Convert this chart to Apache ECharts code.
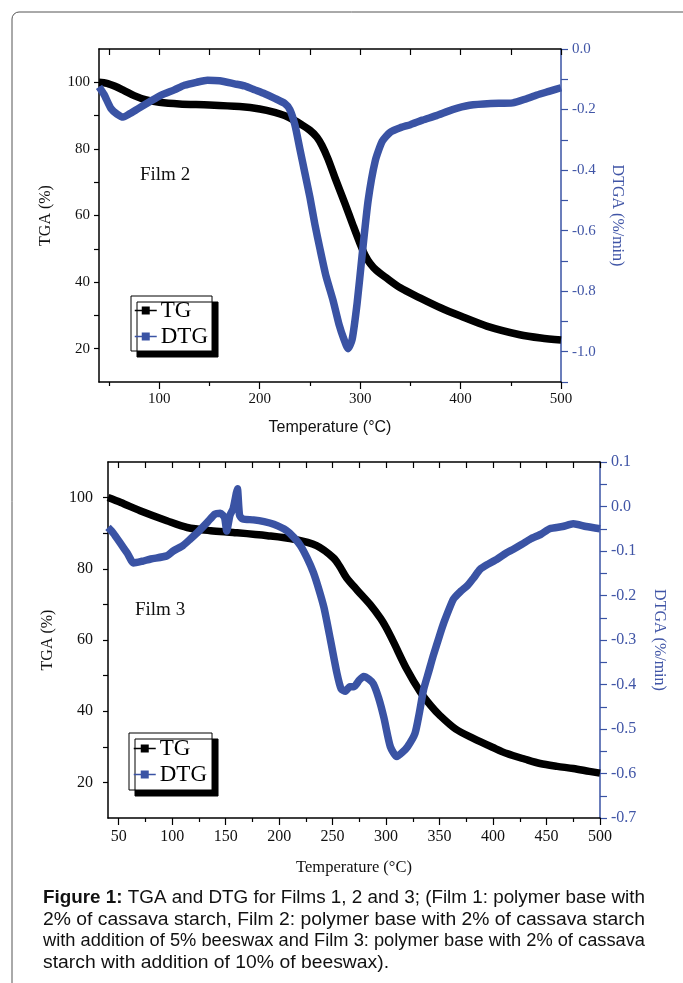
<!DOCTYPE html>
<html>
<head>
<meta charset="utf-8">
<script src="https://cdn.jsdelivr.net/npm/echarts@6/dist/echarts.min.js"></script>
<style>
html,body{margin:0;padding:0;background:#fff;}
#chart{width:683px;height:983px;}
</style>
</head>
<body>
<div id="chart"></div>
<script>
// ---------- DATA ----------
// Film 2 (top panel)
const film2TgTemp = [40,48,56,65,75,86,100,120,150,180,200,215,225,235,242,250,257,262,268,275,285,293,300,305,310,316,326,340,360,380,400,426,459,480,500];
const film2TgValue = [100,99.7,98.8,97.5,96,94.8,94,93.5,93.2,92.7,92,91,90,88.5,87.2,85.6,83.5,81,77,71.3,63.5,57,51.5,48,45.6,43.6,41.3,38.3,35.2,32.3,29.8,26.8,24.2,23.2,22.6];
const film2DtgTemp = [40,45,52,58,64,70,79,90,102,115,125,137,148,160,175,185,195,205,215,225,230,235,240,245,250,255,260,266,273,279,284,288,292,297,302,308,315,322,330,340,350,362,376,392,409,430,452,465,476,488,500];
const film2DtgValue = [-0.125,-0.15,-0.197,-0.215,-0.225,-0.215,-0.197,-0.175,-0.152,-0.135,-0.12,-0.11,-0.103,-0.105,-0.115,-0.122,-0.135,-0.148,-0.163,-0.18,-0.2,-0.25,-0.33,-0.41,-0.49,-0.58,-0.66,-0.75,-0.83,-0.91,-0.96,-0.99,-0.96,-0.84,-0.68,-0.5,-0.37,-0.305,-0.275,-0.26,-0.25,-0.235,-0.22,-0.2,-0.186,-0.18,-0.178,-0.165,-0.152,-0.14,-0.128];
// Film 3 (bottom panel)
const film3TgTemp = [40,52,70,95,114,136,157,189,214,235,251,257,263,273,285,295,300,307,319,332,342,350,365,382,400,413,430,444,460,475,490,500];
const film3TgValue = [100,98.6,96.3,93.5,91.6,90.7,90.2,89.3,88.3,86.5,83,80.5,77.5,74,70,66,63.5,59.4,52,45.4,41.5,38.9,35,32.3,29.8,28.1,26.5,25.3,24.5,23.9,23.1,22.6];
const film3DtgTemp = [40,45,52,58,64,72,80,95,101,110,117,125,133,140,145,149,151,154,157,160,161,163,166,176,186,195,207,214,220,226,232,237,242,248,254,258,262,266,270,275,279,284,288,293,298,304,310,315,320,327,331,335,340,344,350,354,363,370,376,382,388,395,404,412,419,427,435,445,453,465,475,487,500];
const film3DtgValue = [-0.047,-0.06,-0.084,-0.105,-0.127,-0.123,-0.118,-0.111,-0.1,-0.088,-0.073,-0.055,-0.035,-0.017,-0.015,-0.025,-0.055,-0.02,-0.005,0.03,0.04,-0.02,-0.028,-0.03,-0.034,-0.04,-0.054,-0.07,-0.088,-0.115,-0.148,-0.185,-0.228,-0.3,-0.374,-0.41,-0.415,-0.405,-0.405,-0.39,-0.382,-0.388,-0.398,-0.43,-0.475,-0.54,-0.562,-0.553,-0.54,-0.51,-0.465,-0.412,-0.37,-0.336,-0.29,-0.261,-0.208,-0.19,-0.178,-0.16,-0.141,-0.13,-0.118,-0.105,-0.096,-0.085,-0.073,-0.062,-0.05,-0.045,-0.039,-0.045,-0.05];

// Tick labels
const c1XLabels = [100,200,300,400,500];
const c1XMajorTicks = [100,200,300,400,500];
const c1XMinorTicks = [50,150,250,350,450];
const c1XTopTicks = [50,100,150,200,250,300,350,400,450,500];
const c1YLabels = [20,40,60,80,100];
const c1YTicks = [20,30,40,50,60,70,80,90,100];
const c1RLabels = [0,-0.2,-0.4,-0.6,-0.8,-1.0];
const c1RTicks = [0,-0.1,-0.2,-0.3,-0.4,-0.5,-0.6,-0.7,-0.8,-0.9,-1.0,-1.1];

const c2XLabels = [50,100,150,200,250,300,350,400,450,500];
const c2XMajorTicks = [50,100,150,200,250,300,350,400,450,500];
const c2XMinorTicks = [75,125,175,225,275,325,375,425,475];
const c2XTopTicks = [50,75,100,125,150,175,200,225,250,275,300,325,350,375,400,425,450,475,500];
const c2YLabels = [20,40,60,80,100];
const c2YTicks = [20,30,40,50,60,70,80,90,100];
const c2RLabels = [0.1,0,-0.1,-0.2,-0.3,-0.4,-0.5,-0.6,-0.7];
const c2RTicks = [0.1,0.05,0,-0.05,-0.1,-0.15,-0.2,-0.25,-0.3,-0.35,-0.4,-0.45,-0.5,-0.55,-0.6,-0.65,-0.7];

const captionBold = "Figure 1:";
const captionLines = [
  " TGA and DTG for Films 1, 2 and 3; (Film 1: polymer base with",
  "2% of cassava starch, Film 2: polymer base with 2% of cassava starch",
  "with addition of 5% beeswax and Film 3: polymer base with 2% of cassava",
  "starch with addition of 10% of beeswax)."
];

// ---------- STYLE ----------
const SERIF = "'Liberation Serif','Times New Roman',serif";
const SANS = "'Liberation Sans',Arial,sans-serif";
const BLUE = '#3A53A4';
const BLUE_TXT = '#4055A6';

function pairs(xs, ys){ return xs.map((x,i)=>[x, ys[i]]); }

function xAxisDef(grid, pos, opts){
  return Object.assign({
    type:'value', gridIndex:grid, position:pos, min:40, max:500,
    axisLine:{show:true, onZero:false, lineStyle:{color:'#000', width:1.5}},
    splitLine:{show:false},
    axisLabel:{show:false},
    axisTick:{show:false}
  }, opts);
}

const grids = [
  {left:99, top:49, width:462, height:333, containLabel:false, outerBoundsMode:'none'},
  {left:108, top:462, width:492, height:356, containLabel:false, outerBoundsMode:'none'}
];

const xAxes = [
  // chart 1
  xAxisDef(0,'bottom',{
    axisTick:{show:true, inside:false, length:7, customValues:c1XMajorTicks, lineStyle:{color:'#000',width:1.2}},
    axisLabel:{show:true, customValues:c1XLabels, margin:10, color:'#111', fontFamily:SERIF, fontSize:15},
    name:'Temperature (°C)', nameLocation:'middle', nameGap:38,
    nameTextStyle:{fontFamily:SANS, fontSize:16, color:'#111'}
  }),
  xAxisDef(0,'bottom',{axisLine:{show:false,onZero:false},
    axisTick:{show:true, inside:false, length:4, customValues:c1XMinorTicks, lineStyle:{color:'#000',width:1.2}}}),
  xAxisDef(0,'top',{
    axisTick:{show:true, inside:true, length:6, customValues:c1XTopTicks, lineStyle:{color:'#000',width:1.2}}}),
  // chart 2
  xAxisDef(1,'bottom',{
    axisTick:{show:true, inside:false, length:7, customValues:c2XMajorTicks, lineStyle:{color:'#000',width:1.2}},
    axisLabel:{show:true, customValues:c2XLabels, margin:11, color:'#111', fontFamily:SERIF, fontSize:16},
    name:'Temperature (°C)', nameLocation:'middle', nameGap:41,
    nameTextStyle:{fontFamily:SERIF, fontSize:16.5, color:'#111'}
  }),
  xAxisDef(1,'bottom',{axisLine:{show:false,onZero:false},
    axisTick:{show:true, inside:false, length:4, customValues:c2XMinorTicks, lineStyle:{color:'#000',width:1.2}}}),
  xAxisDef(1,'top',{
    axisTick:{show:true, inside:true, length:6, customValues:c2XTopTicks, lineStyle:{color:'#000',width:1.2}}})
];

const yAxes = [
  {type:'value', gridIndex:0, position:'left', min:10, max:110,
   axisLine:{show:true,onZero:false,lineStyle:{color:'#000',width:1.5}}, splitLine:{show:false},
   axisTick:{show:true, inside:false, length:5, customValues:c1YTicks, lineStyle:{color:'#000',width:1.2}},
   axisLabel:{show:true, customValues:c1YLabels, margin:9, color:'#111', fontFamily:SERIF, fontSize:15},
   name:'TGA (%)', nameLocation:'middle', nameGap:45, nameRotate:90,
   nameTextStyle:{fontFamily:SERIF, fontSize:16, color:'#111'}},
  {type:'value', gridIndex:0, position:'right', min:-1.1, max:0,
   axisLine:{show:true,onZero:false,lineStyle:{color:BLUE,width:1.5}}, splitLine:{show:false},
   axisTick:{show:true, inside:false, length:7, customValues:c1RTicks, lineStyle:{color:BLUE,width:1.2}},
   axisLabel:{show:true, customValues:c1RLabels, margin:11, color:BLUE_TXT, fontFamily:SERIF, fontSize:15,
     formatter:v=>Number(v).toFixed(1)},
   name:'DTGA (%/min)', nameLocation:'middle', nameGap:48, nameRotate:-90,
   nameTextStyle:{fontFamily:SERIF, fontSize:16, color:BLUE_TXT}},
  {type:'value', gridIndex:1, position:'left', min:10, max:110,
   axisLine:{show:true,onZero:false,lineStyle:{color:'#000',width:1.5}}, splitLine:{show:false},
   axisTick:{show:true, inside:false, length:5, customValues:c2YTicks, lineStyle:{color:'#000',width:1.2}},
   axisLabel:{show:true, customValues:c2YLabels, margin:15, color:'#111', fontFamily:SERIF, fontSize:16},
   name:'TGA (%)', nameLocation:'middle', nameGap:52, nameRotate:90,
   nameTextStyle:{fontFamily:SERIF, fontSize:16, color:'#111'}},
  {type:'value', gridIndex:1, position:'right', min:-0.7, max:0.1,
   axisLine:{show:true,onZero:false,lineStyle:{color:BLUE,width:1.5}}, splitLine:{show:false},
   axisTick:{show:true, inside:false, length:7, customValues:c2RTicks, lineStyle:{color:BLUE,width:1.2}},
   axisLabel:{show:true, customValues:c2RLabels, margin:11, color:BLUE_TXT, fontFamily:SERIF, fontSize:16,
     formatter:v=>Number(v).toFixed(1)},
   name:'DTGA (%/min)', nameLocation:'middle', nameGap:51, nameRotate:-90,
   nameTextStyle:{fontFamily:SERIF, fontSize:16, color:BLUE_TXT}}
];

function lineSeries(name, xi, yi, data, color, smooth){
  return {name, type:'line', xAxisIndex:xi, yAxisIndex:yi, data,
    symbol:'rect', symbolSize:9, showSymbol:false, smooth:smooth,
    lineStyle:{color, width:7.5, join:'round', cap:'butt'}, itemStyle:{color}, silent:true, animation:false};
}

const series = [
  lineSeries('TG', 0, 0, pairs(film2TgTemp, film2TgValue), '#000', 0.3),
  lineSeries('DTG', 0, 1, pairs(film2DtgTemp, film2DtgValue), BLUE, 0.2),
  lineSeries('TG', 3, 2, pairs(film3TgTemp, film3TgValue), '#000', 0.3),
  lineSeries('DTG', 3, 3, pairs(film3DtgTemp, film3DtgValue), BLUE, 0.2)
];

function legendDef(left, top, pad){
  return {show:true, orient:'vertical', left, top, data:['TG','DTG'],
    padding:pad, itemGap:3, itemWidth:22, itemHeight:10,
    backgroundColor:'#fff', borderColor:'#000', borderWidth:1,
    shadowColor:'#000', shadowBlur:0, shadowOffsetX:6, shadowOffsetY:6,
    lineStyle:{width:1.5}, selectedMode:false,
    textStyle:{fontFamily:SERIF, fontSize:23, color:'#000', padding:[0,0,0,-1]}};
}

// ---------- CAPTION ----------
const measureCtx = document.createElement('canvas').getContext('2d');
const CAP_SIZE = 17.5;
const capFont = `${CAP_SIZE}px ${SANS}`;
const capBoldFont = `bold ${CAP_SIZE}px ${SANS}`;
const capLeft = 43;
const capTargets = [602, 602, 602, 346];
const capYs = [898, 920, 941, 963];
const capGraphics = captionLines.map((line, li) => {
  measureCtx.font = capFont;
  let w = measureCtx.measureText(line).width;
  let text = line;
  if (li === 0) {
    measureCtx.font = capBoldFont;
    w += measureCtx.measureText(captionBold).width;
    text = '{b|' + captionBold + '}' + line;
  }
  const s = capTargets[li] / w;
  return {type:'text', x:capLeft, y:capYs[li], scaleX:s, silent:true,
    style:{text, font:capFont, fill:'#111', verticalAlign:'middle', align:'left',
      rich:{b:{font:capBoldFont, fill:'#111'}}}};
});

const graphics = [
  {type:'rect', shape:{x:12, y:12, width:720, height:1020, r:7}, silent:true, z:-10,
   style:{fill:'none', stroke:'#555', lineWidth:1}},
  {type:'text', x:140, y:175, silent:true,
   style:{text:'Film 2', font:`19px ${SERIF}`, fill:'#111', verticalAlign:'middle'}},
  {type:'text', x:135, y:610, silent:true,
   style:{text:'Film 3', font:`19px ${SERIF}`, fill:'#111', verticalAlign:'middle'}}
].concat(capGraphics);

const chart = echarts.init(document.getElementById('chart'), null, {renderer:'canvas'});
chart.setOption({
  backgroundColor:'#fff',
  animation:false,
  grid: grids,
  xAxis: xAxes,
  yAxis: yAxes,
  legend: [legendDef(131, 296, [3,4,3,3]), legendDef(129, 733, [4,5,4,4])],
  series: series,
  graphic: graphics
});
</script>
</body>
</html>
